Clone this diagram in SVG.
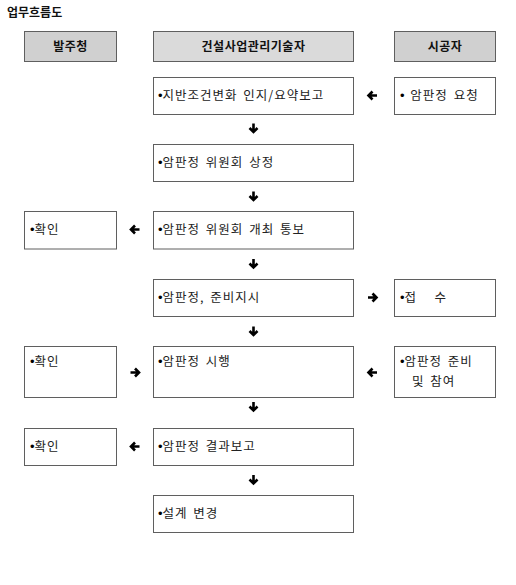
<svg xmlns="http://www.w3.org/2000/svg" xmlns:xlink="http://www.w3.org/1999/xlink" width="516" height="585" viewBox="0 0 516 585">
<style>
  .box{fill:#ffffff;stroke:#5f5f5f;stroke-width:1}
  .hd{stroke:#5f5f5f;stroke-width:1}
  .hd1{fill:#d0d0d0}
  .hd2{fill:#dadada}
  .t{font-family:"Noto Sans CJK KR","Noto Sans",sans-serif;font-size:12.5px;fill:#222;word-spacing:2px;letter-spacing:1px}
  .b{font-family:"Liberation Sans",sans-serif;font-size:13px;fill:#000;letter-spacing:0}
  .h{font-family:"Noto Sans CJK KR","Noto Sans",sans-serif;font-size:12px;font-weight:bold;fill:#111;text-anchor:middle;letter-spacing:0.5px}
  .title{font-family:"Noto Sans CJK KR","Noto Sans",sans-serif;font-size:12px;font-weight:bold;fill:#111}
  .ar{fill:none;stroke:#000;stroke-width:2.6}
</style>
<defs>
  <path id="ad" class="ar" d="M0,-4.5 V4 M-4,0 L0,4 L4,0"/>
</defs>
<rect width="516" height="585" fill="#ffffff"/>
<text class="title" x="7" y="17">업무흐름도</text>

<g id="h-owner"><rect class="hd hd1" x="24.5" y="31.5" width="92" height="30"/><text class="h" x="70.5" y="51">발주청</text></g>
<g id="h-cm"><rect class="hd hd2" x="153.5" y="31.5" width="200" height="30"/><text class="h" x="253.5" y="51">건설사업관리기술자</text></g>
<g id="h-contractor"><rect class="hd hd1" x="394.5" y="31.5" width="101" height="30"/><text class="h" x="445" y="51">시공자</text></g>

<g id="n1"><rect class="box" x="153.5" y="77.5" width="200" height="37"/><text class="t" x="158" y="100"><tspan class="b">•</tspan>지반조건변화 인지/요약보고</text></g>
<g id="c1"><rect class="box" x="394.5" y="77.5" width="101" height="37"/><text class="t" x="400" y="100"><tspan class="b">•</tspan> 암판정 요청</text></g>

<g id="n2"><rect class="box" x="153.5" y="144.5" width="200" height="37"/><text class="t" x="158" y="167"><tspan class="b">•</tspan>암판정 위원회 상정</text></g>

<g id="o3"><rect class="box" x="24.5" y="211.5" width="92" height="37.5"/><text class="t" x="30" y="234"><tspan class="b">•</tspan>확인</text></g>
<g id="n3"><rect class="box" x="153.5" y="211.5" width="200" height="37.5"/><text class="t" x="158" y="234"><tspan class="b">•</tspan>암판정 위원회 개최 통보</text></g>

<g id="n4"><rect class="box" x="153.5" y="279.5" width="200" height="37"/><text class="t" x="158" y="302"><tspan class="b">•</tspan>암판정, 준비지시</text></g>
<g id="c4"><rect class="box" x="394.5" y="279.5" width="101" height="37"/><text class="t" x="400" y="302" xml:space="preserve"><tspan class="b">•</tspan>접   수</text></g>

<g id="o5"><rect class="box" x="24.5" y="346.5" width="92" height="51"/><text class="t" x="30" y="366"><tspan class="b">•</tspan>확인</text></g>
<g id="n5"><rect class="box" x="153.5" y="346.5" width="200" height="51"/><text class="t" x="158" y="366"><tspan class="b">•</tspan>암판정 시행</text></g>
<g id="c5"><rect class="box" x="394.5" y="346.5" width="101" height="51"/><text class="t" x="400" y="366"><tspan class="b">•</tspan>암판정 준비</text><text class="t" x="412" y="386">및 참여</text></g>

<g id="o6"><rect class="box" x="24.5" y="428.5" width="92" height="37"/><text class="t" x="30" y="451"><tspan class="b">•</tspan>확인</text></g>
<g id="n6"><rect class="box" x="153.5" y="428.5" width="200" height="37"/><text class="t" x="158" y="451"><tspan class="b">•</tspan>암판정 결과보고</text></g>

<g id="n7"><rect class="box" x="153.5" y="495.5" width="200" height="37"/><text class="t" x="158" y="518"><tspan class="b">•</tspan>설계 변경</text></g>

<g id="connectors">
  <use href="#ad" transform="translate(253.5,128)"/>
  <use href="#ad" transform="translate(253.5,196)"/>
  <use href="#ad" transform="translate(253.5,263.5)"/>
  <use href="#ad" transform="translate(253.5,331)"/>
  <use href="#ad" transform="translate(253.5,406.5)"/>
  <use href="#ad" transform="translate(253.5,479.5)"/>
  <use href="#ad" transform="translate(372.5,95.5) rotate(90)"/>
  <use href="#ad" transform="translate(135,229.5) rotate(90)"/>
  <use href="#ad" transform="translate(372.5,297.5) rotate(-90)"/>
  <use href="#ad" transform="translate(135,372.5) rotate(-90)"/>
  <use href="#ad" transform="translate(372.5,372.5) rotate(90)"/>
  <use href="#ad" transform="translate(135,446.5) rotate(90)"/>
</g>
</svg>
